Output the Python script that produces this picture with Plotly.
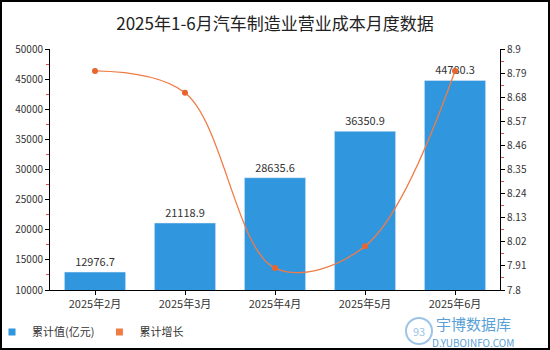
import plotly.graph_objects as go

categories = ["2025年2月", "2025年3月", "2025年4月", "2025年5月", "2025年6月"]
cum_values = [12976.7, 21118.9, 28635.6, 36350.9, 44780.3]
cum_growth = [8.8, 8.7, 7.9, 8.0, 8.8]
left_ticks = [10000, 15000, 20000, 25000, 30000, 35000, 40000, 45000, 50000]
right_ticks = [7.8, 7.91, 8.02, 8.13, 8.24, 8.35, 8.46, 8.57, 8.68, 8.79, 8.9]

FONT = "Noto Sans CJK SC"
BAR_C = "#3096DE"
LINE_C = "#F07C45"

W, H = 550, 350
ML, MR, MT, MB = 50, 50, 49, 60

fig = go.Figure()
fig.add_trace(go.Bar(
    x=categories, y=cum_values, name="累计值(亿元)", showlegend=False,
    marker=dict(color=BAR_C), width=0.68,
    text=[f"{v:.1f}" for v in cum_values], textposition="outside",
    textfont=dict(size=11, color="#333333", family=FONT),
    cliponaxis=False,
))
fig.add_trace(go.Scatter(
    x=categories, y=cum_growth, name="累计增长", yaxis="y2", showlegend=False,
    mode="lines+markers", line=dict(color=LINE_C, width=1.3, shape="spline", smoothing=1.0),
    marker=dict(color="#E8652F", size=6),
))
# legend entries (square swatches)
fig.add_trace(go.Scatter(x=[None], y=[None], mode="markers", name="累计值(亿元)",
                         marker=dict(symbol="square", size=7, color=BAR_C)))
fig.add_trace(go.Scatter(x=[None], y=[None], mode="markers", name="累计增长",
                         marker=dict(symbol="square", size=7, color=LINE_C)))

PW = W - ML - MR
PH = H - MT - MB
def px_x(x):
    return (x - ML) / PW
def px_y(y):
    return (H - MB - y) / PH

fig.update_layout(
    width=W, height=H,
    margin=dict(l=ML, r=MR, t=MT, b=MB, autoexpand=False),
    paper_bgcolor="white", plot_bgcolor="white",
    font=dict(family=FONT, size=11, color="#333333"),
    title=dict(text="2025年1-6月汽车制造业营业成本月度数据", x=0.5, y=1 - 24/H, xanchor="center", yanchor="middle",
               xref="container", yref="container",
               font=dict(size=17, color="#222222", family=FONT)),
    showlegend=True,
    legend=dict(orientation="h", x=px_x(-8), y=px_y(332), xref="paper", yref="paper",
                xanchor="left", yanchor="middle",
                font=dict(size=11, color="#333333"), itemwidth=30, tracegroupgap=0,
                bgcolor="rgba(0,0,0,0)"),
    bargap=0.32,
    xaxis=dict(showline=True, linecolor="black", linewidth=1, ticks="outside", ticklen=4, tickcolor="black",
               showgrid=False, tickfont=dict(size=11, color="#333333")),
    yaxis=dict(range=[10000, 50000], tickvals=left_ticks, ticktext=[str(t) for t in left_ticks],
               showline=True, linecolor="black", linewidth=1,
               ticks="outside", ticklen=4, tickcolor="black", showgrid=False, zeroline=False,
               tickfont=dict(size=10, color="#333333"),
               minor=dict(dtick=2500, ticks="outside", ticklen=3, tickcolor="#E05050", showgrid=False)),
    yaxis2=dict(range=[7.8, 8.9], tickvals=right_ticks, ticktext=[f"{t:g}" for t in right_ticks],
                overlaying="y", side="right", showline=True, linecolor="black", linewidth=1,
                ticks="outside", ticklen=4, tickcolor="black", showgrid=False, zeroline=False,
                tickfont=dict(size=10, color="#333333"),
                minor=dict(tickvals=[7.855 + 0.11 * i for i in range(10)], ticks="outside", ticklen=3,
                           tickcolor="#E05050", showgrid=False)),
)

# outer border
fig.add_shape(type="rect", xref="paper", yref="paper",
              x0=px_x(1), x1=px_x(W - 1), y0=px_y(H - 1), y1=px_y(1),
              line=dict(color="black", width=2))

# watermark
fig.add_annotation(text="宇博数据库", xref="paper", yref="paper", x=px_x(473), y=px_y(323),
                   xanchor="center", yanchor="middle", showarrow=False, borderpad=0,
                   font=dict(size=15, color="#5A9FD6", family=FONT))
fig.add_annotation(text="D.YUBOINFO.COM", xref="paper", yref="paper", x=px_x(473), y=px_y(342),
                   xanchor="center", yanchor="middle", showarrow=False, borderpad=0,
                   font=dict(size=10, color="#5A9FD6", family=FONT))
fig.add_shape(type="circle", xref="paper", yref="paper",
              x0=px_x(406), x1=px_x(432), y0=px_y(344), y1=px_y(318),
              line=dict(color="#9CC4E6", width=2))
fig.add_annotation(text="93", xref="paper", yref="paper", x=px_x(419), y=px_y(331),
                   xanchor="center", yanchor="middle", showarrow=False, borderpad=0,
                   font=dict(size=11, color="#9CC4E6", family=FONT))

fig.write_html("out.html")
